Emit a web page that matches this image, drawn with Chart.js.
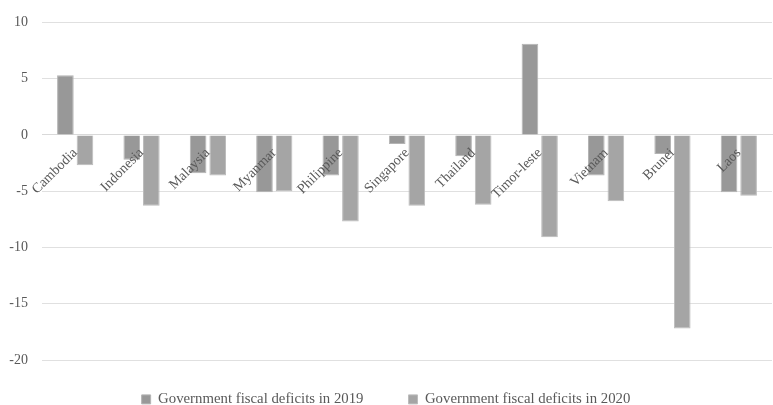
<!DOCTYPE html>
<html>
<head>
<meta charset="utf-8">
<script src="https://cdn.jsdelivr.net/npm/chart.js@4"></script>
<style>
  html, body { margin: 0; padding: 0; background: #fff; }
  #wrap { width: 773px; height: 405px; }
</style>
</head>
<body>
<div id="wrap"><canvas id="bar-chart-grouped"></canvas></div>
<script>
const countries = ["Cambodia", "Indonesia", "Malaysia", "Myanmar", "Philippine", "Singapore",
                   "Thailand", "Timor-leste", "Vietnam", "Brunei", "Laos"];
const deficits2019 = [5.3, -2.2, -3.4, -5.1, -3.6, -0.8, -1.9, 8.1, -3.6, -1.7, -5.1];
const deficits2020 = [-2.7, -6.3, -3.6, -5.0, -7.7, -6.3, -6.2, -9.1, -5.9, -17.2, -5.4];
const yTicks = [-20, -15, -10, -5, 0, 5, 10];

const serif = "'Liberation Serif', 'Times New Roman', serif";

// legend: wide gap between items but a short box under the plot
const legendGap = {
    id: 'legendGap',
    afterInit(chart) {
        const legend = chart.legend;
        const fit = legend.fit;
        legend.fit = function () { fit.call(this); this.height = 45; };
    },
    afterLayout(chart) {
        chart.legend.top -= 13;
        chart.legend.bottom = chart.height;
    }
};

new Chart(document.getElementById("bar-chart-grouped"), {
    type: 'bar',
    data: {
      labels: countries,
      datasets: [
        {
            label: "Government fiscal deficits in 2019",
            backgroundColor: "#989898",
            borderColor: "#b4b4b4",
            borderWidth: 1,
            data: deficits2019
        }, {
            label: "Government fiscal deficits in 2020",
            backgroundColor: "#a5a5a5",
            borderColor: "#bcbcbc",
            borderWidth: 1,
            data: deficits2020
        }
      ]
    },
    plugins: [legendGap],
    options: {
        responsive: true,
        maintainAspectRatio: false,
        animation: false,
        categoryPercentage: 0.59,
        barPercentage: 0.85,
        layout: { padding: { top: 15, right: 1, left: 0, bottom: 0 } },
        scales: {
            x: {
                position: { y: 0 },
                grid: { display: false, drawTicks: false },
                border: { display: true, color: "#d9d9d9", width: 1 },
                ticks: {
                    z: 1,
                    minRotation: 45,
                    maxRotation: 45,
                    padding: 10,
                    color: "#595959",
                    font: { family: serif, size: 14 }
                }
            },
            y: {
                min: -20,
                max: 10,
                afterBuildTicks: (axis) => { axis.ticks = yTicks.map(v => ({ value: v })); },
                afterFit: (axis) => { axis.width = 42; },
                grid: { color: "#e0e0e0", lineWidth: 1, drawTicks: false },
                border: { display: false },
                ticks: {
                    padding: 14,
                    color: "#595959",
                    font: { family: serif, size: 14 }
                }
            }
        },
        plugins: {
            tooltip: { enabled: false },
            legend: {
                display: true,
                position: 'bottom',
                labels: {
                    boxWidth: 9,
                    boxHeight: 9,
                    padding: 45,
                    color: "#595959",
                    font: { family: serif, size: 14.8 }
                }
            }
        }
    }
});
</script>
</body>
</html>
